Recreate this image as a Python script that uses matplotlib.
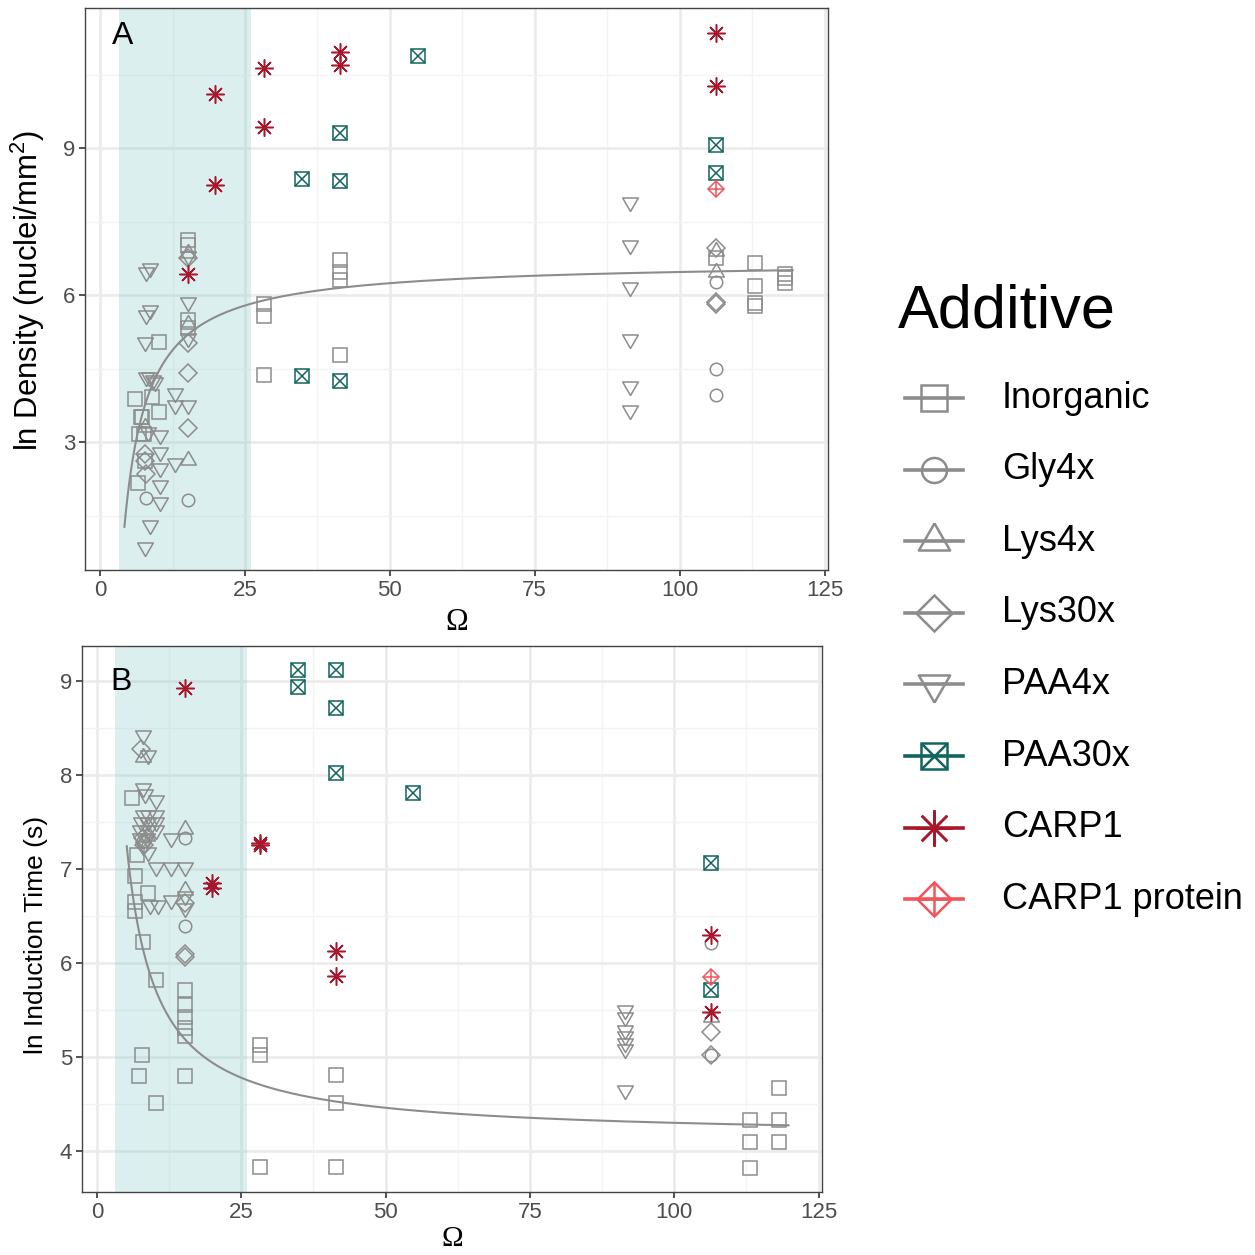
import matplotlib
matplotlib.use('Agg')
import matplotlib.pyplot as plt
from matplotlib.lines import Line2D
from matplotlib.patches import Rectangle
import numpy as np

plt.rcParams['font.family'] = ['Liberation Sans', 'DejaVu Sans']
plt.rcParams['mathtext.fontset'] = 'custom'
plt.rcParams['mathtext.rm'] = 'Liberation Sans'
plt.rcParams['mathtext.it'] = 'Liberation Sans:italic'

additives = ['Inorganic', 'Gly4x', 'Lys4x', 'Lys30x', 'PAA4x', 'PAA30x', 'CARP1', 'CARP1 protein']

# panel A: (omega, ln density)
dens_inorganic = [(6.0, 3.88), (6.6, 2.16), (7.0, 3.52), (7.3, 3.52), (6.8, 3.16), (7.5, 3.16),
                  (7.8, 2.62), (8.9, 3.92), (10.2, 3.62), (10.2, 5.05), (15.2, 7.12), (15.2, 7.02),
                  (15.2, 5.49), (15.2, 5.33), (28.2, 5.82), (28.2, 5.58), (28.2, 4.38),
                  (41.4, 6.71), (41.4, 6.48), (41.4, 6.31), (41.4, 4.78), (106.3, 6.75),
                  (113.0, 6.66), (113.0, 6.18), (113.0, 5.83), (113.0, 5.78),
                  (118.1, 6.44), (118.1, 6.34), (118.1, 6.24)]
dens_gly4x = [(7.9, 1.86), (15.2, 1.82), (106.3, 6.27), (106.3, 4.50), (106.3, 3.96)]
dens_lys4x = [(15.2, 6.85), (15.2, 5.42), (15.2, 2.63), (7.8, 3.30), (106.3, 6.90), (106.3, 6.47)]
dens_lys30x = [(15.2, 6.75), (15.2, 5.02), (15.2, 4.41), (15.2, 3.29), (7.8, 2.75), (7.8, 2.62),
               (7.9, 2.35), (106.3, 6.96), (106.3, 5.86), (106.3, 5.82)]
dens_paa4x = [(7.9, 6.47), (8.7, 6.55), (8.0, 5.59), (8.7, 5.69), (7.8, 5.05), (7.9, 4.33),
              (8.4, 4.33), (9.1, 4.27), (9.5, 4.22), (8.3, 3.20), (12.9, 4.00), (12.9, 3.76),
              (15.2, 3.76), (15.2, 5.86), (15.2, 5.12), (15.2, 6.80), (10.3, 3.14), (10.3, 2.80),
              (10.3, 2.47), (10.3, 2.12), (10.3, 1.78), (12.9, 2.57), (8.7, 1.30), (7.8, 0.86),
              (91.4, 7.90), (91.4, 7.02), (91.4, 6.17), (91.4, 5.10), (91.4, 4.14), (91.4, 3.65)]
dens_paa30x = [(34.8, 8.37), (34.8, 4.35), (41.4, 9.31), (41.4, 8.33), (41.4, 4.24),
               (54.8, 10.88), (106.3, 9.06), (106.3, 8.49)]
dens_carp1 = [(15.2, 6.44), (19.8, 10.10), (19.8, 8.24), (28.2, 10.63), (28.2, 9.43),
              (41.4, 10.96), (41.4, 10.69), (106.3, 11.35), (106.3, 10.27)]
dens_carp1_protein = [(106.3, 8.16)]

# panel B: (omega, ln induction time)
ind_inorganic = [(6.0, 7.75), (6.9, 7.15), (6.6, 6.93), (6.6, 6.65), (6.6, 6.55), (8.9, 6.74),
                 (8.0, 6.22), (10.3, 5.82), (7.8, 5.02), (7.3, 4.80), (10.2, 4.51),
                 (15.3, 5.71), (15.3, 5.55), (15.3, 5.43), (15.3, 5.31), (15.3, 5.22), (15.3, 4.80),
                 (28.2, 5.13), (28.2, 5.02), (28.2, 3.83), (41.4, 4.81), (41.4, 4.51), (41.4, 3.83),
                 (113.2, 4.33), (113.2, 4.10), (113.2, 3.82), (118.2, 4.67), (118.2, 4.33), (118.2, 4.10)]
ind_gly4x = [(15.3, 7.33), (15.3, 6.39), (106.4, 6.21), (106.4, 5.02), (8.0, 7.30)]
ind_lys4x = [(8.0, 8.19), (15.3, 7.43), (15.3, 6.78), (106.4, 5.43), (8.6, 7.35)]
ind_lys30x = [(7.6, 8.28), (7.9, 7.33), (8.1, 7.26), (15.3, 6.64), (15.3, 6.10), (15.3, 6.06),
              (106.4, 5.27), (106.4, 5.02)]
ind_paa4x = [(8.0, 8.43), (8.9, 8.21), (8.0, 7.86), (8.4, 7.80), (10.3, 7.73), (8.0, 7.57),
             (8.9, 7.57), (10.3, 7.57), (7.6, 7.50), (8.9, 7.50), (10.3, 7.50), (7.5, 7.41),
             (8.9, 7.41), (10.3, 7.41), (7.5, 7.33), (8.6, 7.33), (12.9, 7.33), (8.0, 7.24),
             (8.9, 7.18), (10.3, 7.02), (12.9, 7.02), (15.3, 7.02), (9.2, 6.62), (10.6, 6.62),
             (12.9, 6.67), (15.3, 6.71), (15.3, 6.58), (91.4, 5.50), (91.4, 5.43), (91.4, 5.29),
             (91.4, 5.22), (91.4, 5.15), (91.4, 5.09), (91.4, 4.65)]
ind_paa30x = [(34.9, 9.12), (34.9, 8.94), (41.4, 9.12), (41.4, 8.71), (41.4, 8.02),
              (54.8, 7.81), (106.4, 7.06), (106.4, 5.71)]
ind_carp1 = [(15.3, 8.93), (19.9, 6.85), (19.9, 6.80), (28.2, 7.28), (28.2, 7.26),
             (41.4, 6.13), (41.4, 5.86), (106.4, 6.30), (106.4, 5.48)]
ind_carp1_protein = [(106.4, 5.85)]

# fitted curves y = a + b / omega, with the omega span drawn
dens_fit = (6.70, -22.8, 4.2, 119.5)
ind_fit = (4.14, 15.98, 5.15, 119.8)
shade_span = (3.2, 26.0)

dens_sets = [dens_inorganic, dens_gly4x, dens_lys4x, dens_lys30x, dens_paa4x,
             dens_paa30x, dens_carp1, dens_carp1_protein]
ind_sets = [ind_inorganic, ind_gly4x, ind_lys4x, ind_lys30x, ind_paa4x,
            ind_paa30x, ind_carp1, ind_carp1_protein]

grey = '#8c8c8c'
teal = '#11655c'
darkred = '#a8172b'
salmon = '#f2545b'
tri_up = [(0, 1), (-0.866, -0.5), (0.866, -0.5), (0, 1)]
tri_dn = [(0, -1), (-0.866, 0.5), (0.866, 0.5), (0, -1)]
# (marker, size) layers per additive, and colour
styles = {
    'Inorganic': ([('s', 9.4)], grey),
    'Gly4x': ([('o', 9.0)], grey),
    'Lys4x': ([(tri_up, 13.0)], grey),
    'Lys30x': ([('D', 9.0)], grey),
    'PAA4x': ([(tri_dn, 13.0)], grey),
    'PAA30x': ([('s', 9.4), ('x', 9.4)], teal),
    'CARP1': ([((8, 2, 0), 13.0)], darkred),
    'CARP1 protein': ([('D', 8.6), ('+', 12.2)], salmon),
}


def style_axes(ax, ylim, yticks, yminor):
    ax.set_xlim(-2.6, 125.6)
    ax.set_ylim(*ylim)
    ax.set_xticks([0, 25, 50, 75, 100, 125])
    ax.set_xticks([12.5, 37.5, 62.5, 87.5, 112.5], minor=True)
    ax.set_yticks(yticks)
    ax.set_yticks(yminor, minor=True)
    ax.grid(which='major', color='#ebebeb', lw=1.9, zorder=0)
    ax.grid(which='minor', color='#f3f3f3', lw=1.0, zorder=0)
    ax.set_axisbelow(True)
    for s in ax.spines.values():
        s.set_color('#444444')
        s.set_linewidth(1.0)
    ax.tick_params(which='major', length=4, width=1.2, color='#333333',
                   labelsize=16, labelcolor='#4d4d4d', pad=3)
    ax.tick_params(which='minor', length=0)
    ax.add_patch(Rectangle((shade_span[0], ylim[0]), shade_span[1] - shade_span[0],
                           ylim[1] - ylim[0], facecolor=(0.55, 0.8, 0.8), alpha=0.3,
                           edgecolor='none', zorder=1))


def draw_points(ax, sets):
    for name, pts in zip(additives, sets):
        xs = [p[0] for p in pts]
        ys = [p[1] for p in pts]
        layers, col = styles[name]
        for mk, ms in layers:
            ax.plot(xs, ys, linestyle='None', marker=mk, ms=ms, mfc='none', mec=col,
                    mew=1.1, zorder=3)


def draw_fit(ax, fit):
    a, b, x0, x1 = fit
    xx = np.linspace(x0, x1, 400)
    ax.plot(xx, a + b / xx, color=grey, lw=1.5, zorder=2)


fig = plt.figure(figsize=(12.55, 12.55), dpi=100)
W = 1255.0

axA = fig.add_axes([85 / W, 1 - 570 / W, 743 / W, 562 / W])
style_axes(axA, (0.39, 11.86), [3, 6, 9], [1.5, 4.5, 7.5, 10.5])
draw_fit(axA, dens_fit)
draw_points(axA, dens_sets)
axA.set_ylabel(r'ln Density (nuclei/mm$^2$)', fontsize=22.4)
axA.yaxis.set_label_coords(-0.051, 0.498)
axA.set_xlabel('\u03a9', fontsize=22, family=['Liberation Serif', 'DejaVu Serif'])
axA.xaxis.set_label_coords(0.5, -0.067)
axA.text(0.036, 0.936, 'A', transform=axA.transAxes, fontsize=23)

axB = fig.add_axes([82 / W, 1 - 1192 / W, 740 / W, 546 / W])
style_axes(axB, (3.564, 9.372), [4, 5, 6, 7, 8, 9], [4.5, 5.5, 6.5, 7.5, 8.5])
draw_fit(axB, ind_fit)
draw_points(axB, ind_sets)
axB.set_ylabel('ln Induction Time (s)', fontsize=19)
axB.yaxis.set_label_coords(-0.046, 0.47)
axB.set_xlabel('\u03a9', fontsize=21, family=['Liberation Serif', 'DejaVu Serif'])
axB.xaxis.set_label_coords(0.5, -0.062)
axB.text(0.039, 0.919, 'B', transform=axB.transAxes, fontsize=23)

# legend
fig.text(898 / W, 1 - 328 / W, 'Additive', fontsize=44, va='baseline')
for i, name in enumerate(additives):
    y = 1 - (398 + i * 71.6) / W
    layers, col = styles[name]
    fig.add_artist(Line2D([905 / W, 963 / W], [y, y], transform=fig.transFigure,
                          color=col, lw=2.6))
    for mk, ms in layers:
        fig.add_artist(Line2D([934 / W], [y], transform=fig.transFigure, linestyle='None',
                              marker=mk, ms=ms * 2, mfc='none', mec=col, mew=1.8))
    fig.text(1002 / W, y, name, fontsize=26, va='center')

fig.savefig('out.png', dpi=100)
